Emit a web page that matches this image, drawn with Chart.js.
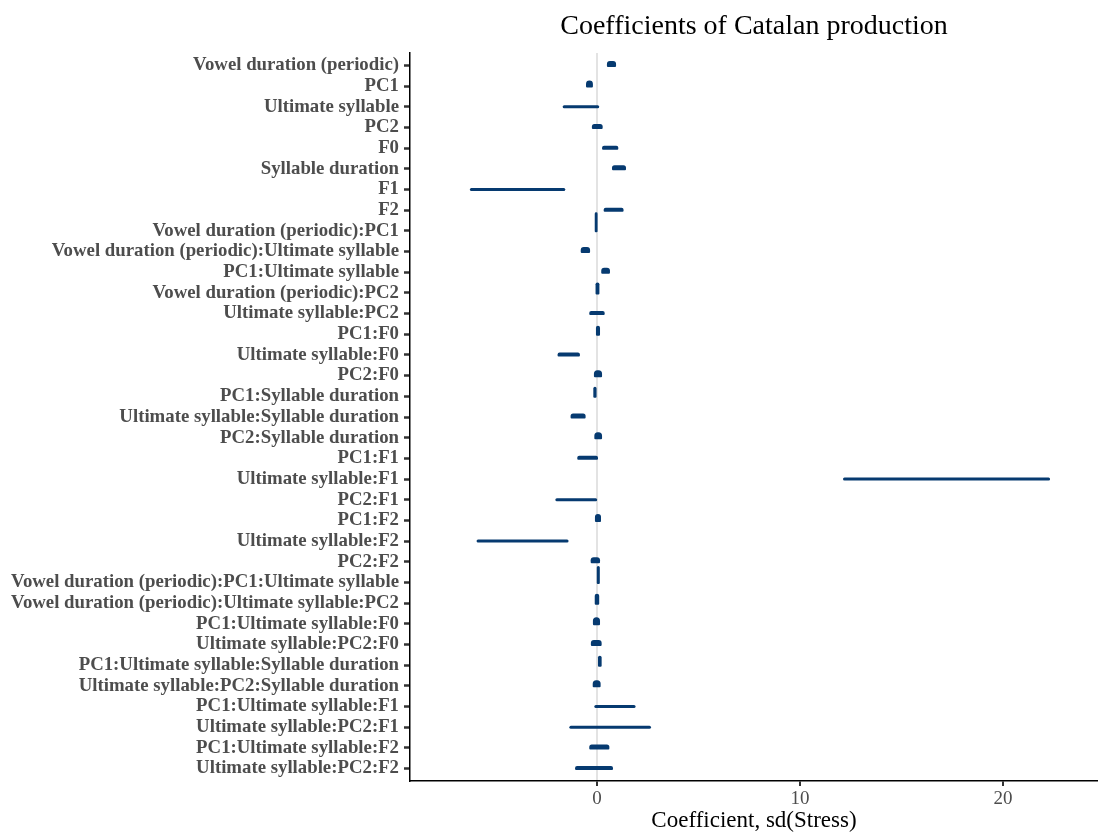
<!DOCTYPE html>
<html>
<head>
<meta charset="utf-8">
<title>Coefficients of Catalan production</title>
<script src="https://cdn.jsdelivr.net/npm/chart.js@4.4.1/dist/chart.umd.min.js"></script>
<style>
  html, body { margin: 0; padding: 0; background: #ffffff; }
  #wrap { width: 1098px; height: 832px; position: relative; }
</style>
</head>
<body>
<div id="wrap"><canvas id="chart"></canvas></div>
<script>
// Model terms, top to bottom
const terms = [
  "Vowel duration (periodic)",
  "PC1",
  "Ultimate syllable",
  "PC2",
  "F0",
  "Syllable duration",
  "F1",
  "F2",
  "Vowel duration (periodic):PC1",
  "Vowel duration (periodic):Ultimate syllable",
  "PC1:Ultimate syllable",
  "Vowel duration (periodic):PC2",
  "Ultimate syllable:PC2",
  "PC1:F0",
  "Ultimate syllable:F0",
  "PC2:F0",
  "PC1:Syllable duration",
  "Ultimate syllable:Syllable duration",
  "PC2:Syllable duration",
  "PC1:F1",
  "Ultimate syllable:F1",
  "PC2:F1",
  "PC1:F2",
  "Ultimate syllable:F2",
  "PC2:F2",
  "Vowel duration (periodic):PC1:Ultimate syllable",
  "Vowel duration (periodic):Ultimate syllable:PC2",
  "PC1:Ultimate syllable:F0",
  "Ultimate syllable:PC2:F0",
  "PC1:Ultimate syllable:Syllable duration",
  "Ultimate syllable:PC2:Syllable duration",
  "PC1:Ultimate syllable:F1",
  "Ultimate syllable:PC2:F1",
  "PC1:Ultimate syllable:F2",
  "Ultimate syllable:PC2:F2"
];

// Posterior range of each coefficient (lower / upper), in sd(Stress)
const lower = [
  0.49, -0.54, -1.69, -0.25, 0.25, 0.74, -6.26, 0.33,
  -0.11, -0.80, 0.21, -0.07, -0.38, -0.05, -1.94, -0.15,
  -0.18, -1.30, -0.13, -0.97, 12.12, -2.05, -0.10, -5.93,
  -0.31, -0.01, -0.11, -0.20, -0.30, 0.00, -0.21, -0.13,
  -1.36, -0.38, -1.08
];
const upper = [
  0.94, -0.20, 0.11, 0.28, 1.05, 1.43, -1.56, 1.31,
  0.03, -0.34, 0.64, 0.12, 0.38, 0.15, -0.84, 0.25,
  -0.02, -0.56, 0.25, 0.05, 22.32, 0.01, 0.20, -1.40,
  0.15, 0.14, 0.11, 0.15, 0.23, 0.23, 0.18, 1.90,
  2.66, 0.61, 0.79
];

// Coefficient axis ticks
const xTicks = [0, 10, 20];

// ---- styling ----
const markColor = "#063a70";
const serif = "'Liberation Serif', 'DejaVu Serif', serif";
// peak height of each density shape, in pixels
const markHeight = [
  6, 7, 3, 5, 4, 5, 3, 4,
  20, 6, 6, 12, 4, 10, 4, 7,
  11, 5, 7, 4, 3, 3, 8, 3,
  6, 18, 11, 8, 6, 11, 7, 3,
  3, 5, 4
];

const datasets = terms.map((term, i) => {
  const h = markHeight[i];
  return {
    label: term,
    data: [{ y: i, x: [lower[i], upper[i]] }],
    backgroundColor: markColor,
    borderWidth: 0,
    borderSkipped: false,
    borderRadius: h <= 3 ? 1.5 : { topLeft: h, topRight: h, bottomLeft: 1, bottomRight: 1 },
    barThickness: h,
    inflateAmount: 0,
    grouped: false,
    xAxisID: "x",
    yAxisID: "y"
  };
});

// Densities rest on their row baseline and rise upward
const densityLift = {
  id: "densityLift",
  beforeDatasetDraw(chart, args) {
    const h = markHeight[args.index];
    chart.ctx.save();
    chart.ctx.translate(0, -Math.max(0, h / 2 - 1.5));
  },
  afterDatasetDraw(chart) {
    chart.ctx.restore();
  }
};

new Chart(document.getElementById("chart"), {
  type: "bar",
  data: { datasets },
  plugins: [densityLift],
  options: {
    indexAxis: "y",
    responsive: true,
    maintainAspectRatio: false,
    animation: false,
    parsing: { xAxisKey: "x", yAxisKey: "y" },
    layout: { padding: 0 },
    plugins: {
      legend: { display: false },
      tooltip: { enabled: false },
      title: { display: false }
    },
    scales: {
      y: {
        type: "linear",
        position: "left",
        reverse: true,
        offset: false,
        min: -0.6,
        max: terms.length - 1 + 0.6,
        afterBuildTicks: (s) => { s.ticks = terms.map((_, i) => ({ value: i })); },
        afterFit: (s) => { s.width = 410; },
        ticks: {
          autoSkip: false,
          padding: 5,
          color: "#4d4d4d",
          font: { family: serif, size: 18.8, weight: "bold" },
          callback: (v) => terms[v]
        },
        grid: {
          offset: false,
          drawOnChartArea: false,
          drawTicks: true,
          tickLength: 6,
          tickWidth: 2.5,
          tickColor: "#333333"
        },
        border: { display: true, color: "#000000", width: 1.5 }
      },
      x: {
        type: "linear",
        position: "bottom",
        min: -9.21,
        max: 24.68,
        afterBuildTicks: (s) => { s.ticks = xTicks.map(v => ({ value: v })); },
        afterFit: (s) => { s.height = 51; },
        ticks: {
          padding: 2,
          color: "#4d4d4d",
          font: { family: serif, size: 19 }
        },
        grid: {
          drawOnChartArea: true,
          color: (ctx) => (ctx.tick && ctx.tick.value === 0 ? "#e3e3e3" : "rgba(0,0,0,0)"),
          lineWidth: 2,
          drawTicks: true,
          tickLength: 5,
          tickWidth: 2,
          tickColor: "#333333"
        },
        border: { display: true, color: "#000000", width: 1.5 },
        title: {
          display: true,
          text: "Coefficient, sd(Stress)",
          color: "#000000",
          font: { family: serif, size: 23, lineHeight: 1 },
          padding: { top: 0, bottom: 0 }
        }
      },
      heading: {
        type: "linear",
        position: "top",
        display: true,
        afterFit: (s) => { s.height = 53; },
        ticks: { display: false },
        grid: { display: false },
        border: { display: false },
        title: {
          display: true,
          text: "Coefficients of Catalan production",
          color: "#000000",
          font: { family: serif, size: 28, lineHeight: 1.2 },
          padding: { top: 10, bottom: 0 }
        }
      }
    }
  }
});
</script>
</body>
</html>
